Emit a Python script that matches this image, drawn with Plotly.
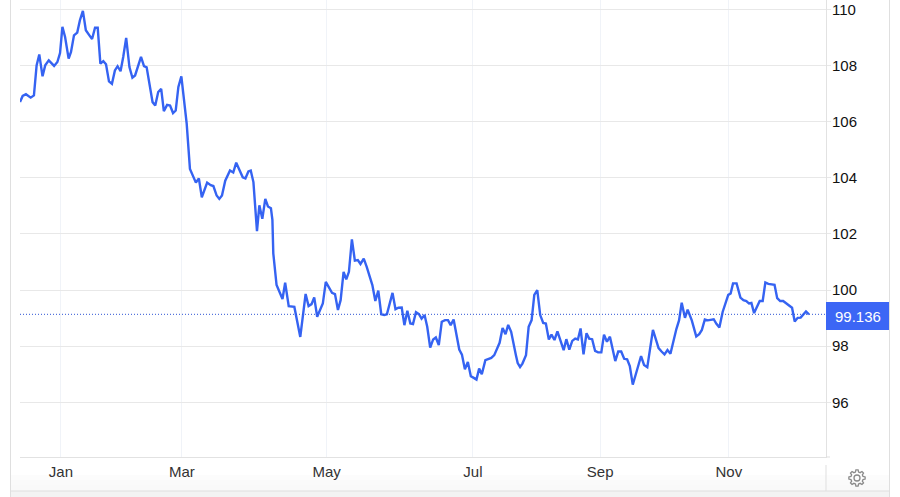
import math

import plotly.graph_objects as go

# trading session position (reference has uneven month spacing) and index value
sessions = [
    0.0, 0.9, 2.0, 3.6, 4.7, 5.6, 6.5, 7.6, 8.5, 9.7, 11.5, 12.6, 13.5, 14.3, 15.2, 16.4, 17.2, 18.2, 19.3, 20.2,
    21.2, 22.2, 23.4, 24.3, 25.3, 26.2, 27.1, 28.1, 29.0, 30.0, 31.0, 32.0, 32.9, 33.9, 34.8, 35.8, 36.9, 37.9, 38.8, 40.8,
    41.8, 42.7, 44.7, 45.6, 46.6, 47.6, 48.5, 49.6, 50.6, 51.6, 52.5, 53.4, 54.4, 56.2, 57.3, 59.3, 60.3, 61.3, 63.1, 64.3,
    65.2, 66.3, 67.2, 68.1, 69.2, 70.8, 71.9, 72.9, 75.1, 76.0, 77.0, 77.8, 78.7, 79.9, 80.7, 81.7, 82.7, 83.6, 84.6, 85.1,
    85.4, 86.0, 86.5, 88.5, 89.4, 90.6, 92.5, 94.5, 96.3, 97.3, 98.3, 99.2, 100.2, 102.1, 103.1, 105.2, 106.2, 107.2, 108.1, 109.1,
    110.0, 110.9, 111.9, 112.9, 113.9, 114.8, 115.9, 116.9, 118.8, 119.8, 120.8, 121.8, 122.8, 123.7, 125.6, 126.6, 127.6, 128.7, 129.6, 130.6,
    131.6, 132.5, 133.5, 134.5, 135.4, 136.4, 137.3, 138.3, 139.3, 140.2, 141.2, 142.2, 143.3, 144.3, 145.2, 146.2, 148.1, 149.0, 150.0, 151.0,
    152.0, 153.0, 153.9, 154.8, 155.7, 156.9, 157.9, 158.9, 159.9, 161.7, 162.7, 163.7, 164.6, 165.6, 167.2, 167.8, 168.6, 169.4, 170.6, 171.5,
    172.5, 173.4, 174.4, 175.4, 176.4, 177.3, 178.3, 179.2, 180.2, 181.2, 183.3, 184.2, 185.2, 186.2, 187.2, 188.1, 189.0, 190.0, 191.0, 191.9,
    192.9, 193.9, 194.9, 196.0, 196.9, 197.9, 198.9, 200.7, 201.7, 202.7, 203.7, 204.7, 205.6, 206.6, 207.6, 209.4, 210.4, 211.5, 213.4, 215.3,
    216.3, 217.3, 218.3, 219.3, 221.3, 222.2, 223.1, 224.2, 225.1, 226.5, 228.0, 229.0, 229.9, 230.9, 231.9, 233.9, 234.8, 235.8, 236.9, 238.8,
    239.6, 240.4, 241.6, 242.9, 243.9, 244.9, 245.8, 246.6, 247.5, 249.4, 250.4, 251.3, 252.3, 254.4, 255.3, 256.3, 257.3, 258.3, 260.3, 261.2,
    262.2, 263.2, 265.0, 266.0,
]
values = [
    106.70, 106.92, 106.98, 106.86, 106.94, 108.01, 108.40, 107.62, 108.01, 108.19, 107.99, 108.13, 108.45, 109.38, 109.02, 108.25, 108.49, 109.08, 109.18, 109.62,
    109.95, 109.26, 109.08, 108.95, 109.35, 109.35, 108.07, 108.16, 108.05, 107.44, 107.35, 107.83, 107.98, 107.80, 108.31, 108.99, 107.95, 107.57, 107.65, 108.31,
    107.98, 107.94, 106.70, 106.58, 107.06, 107.17, 106.38, 106.60, 106.58, 106.31, 106.40, 107.24, 107.62, 105.93, 104.32, 103.83, 103.98, 103.31, 103.83, 103.74,
    103.71, 103.37, 103.25, 103.37, 103.90, 104.26, 104.19, 104.54, 104.02, 103.98, 104.23, 104.26, 103.85, 102.10, 103.02, 102.54, 103.25, 102.98, 102.92, 102.50,
    101.31, 100.71, 100.18, 99.68, 100.26, 99.43, 99.40, 98.33, 99.86, 99.43, 99.50, 99.74, 99.05, 99.52, 100.29, 99.90, 99.86, 99.29, 99.64, 100.65,
    100.38, 100.65, 101.81, 101.05, 101.07, 100.93, 101.12, 100.83, 100.18, 99.61, 99.98, 99.14, 99.11, 99.14, 99.90, 99.32, 99.37, 99.38, 98.75, 99.26,
    98.81, 98.79, 99.21, 99.14, 98.98, 99.11, 98.69, 97.95, 98.24, 98.31, 98.04, 98.87, 98.93, 98.93, 98.75, 98.95, 97.88, 97.70, 97.18, 97.44,
    96.93, 96.87, 96.81, 97.20, 97.00, 97.50, 97.55, 97.58, 97.68, 98.12, 98.65, 98.43, 98.76, 98.51, 97.68, 97.40, 97.26, 97.38, 97.68, 98.69,
    98.93, 99.83, 100.00, 99.11, 98.83, 98.81, 98.24, 98.41, 98.22, 98.53, 97.86, 98.25, 97.88, 98.19, 98.27, 98.24, 98.63, 97.71, 98.46, 98.27,
    98.25, 97.83, 97.78, 97.78, 98.41, 98.16, 98.34, 97.47, 97.81, 97.81, 97.55, 97.53, 97.29, 96.63, 96.99, 97.65, 97.33, 97.25, 98.58, 97.93,
    97.81, 97.71, 97.86, 97.73, 98.61, 98.92, 99.55, 99.01, 99.30, 98.92, 98.35, 98.43, 98.58, 98.95, 98.92, 98.96, 98.80, 98.67, 99.22, 99.83,
    99.88, 100.24, 100.24, 99.73, 99.64, 99.61, 99.52, 99.54, 99.18, 99.61, 99.61, 100.27, 100.22, 100.19, 99.71, 99.61, 99.61, 99.52, 99.37, 98.88,
    99.01, 99.02, 99.24, 99.136,
]
month_labels = ["Jan", "Mar", "May", "Jul", "Sep", "Nov"]
month_sessions = [13.8, 54.6, 103.4, 152.7, 195.6, 239.0]
y_ticks = [96, 98, 100, 102, 104, 106, 108, 110]

WIDTH = 900
HEIGHT = 497
BLUE = "#3563f2"
FONT = "Liberation Sans"


def px_x(px):
    return px / WIDTH


def px_y(py):
    return 1 - py / HEIGHT


def frame_line(x0, y0, x1, y1, color="#dfdfdf"):
    return dict(type="line", xref="paper", yref="paper", layer="above",
                x0=px_x(x0), y0=px_y(y0), x1=px_x(x1), y1=px_y(y1),
                line=dict(color=color, width=1))


def gear_path(cx, cy, r_out=8.2, r_in=6.2, teeth=8):
    # settings icon outline, in paper coordinates
    pts = []
    for i in range(teeth):
        a = 2 * math.pi * i / teeth
        step = 2 * math.pi / teeth
        for off, r in [(-0.32, r_in), (-0.17, r_out), (0.17, r_out), (0.32, r_in)]:
            t = a + off * step
            pts.append((cx + r * math.cos(t), cy + r * math.sin(t)))
    return "M " + " L ".join(f"{px_x(x):.5f},{px_y(y):.5f}" for x, y in pts) + " Z"


last_price = values[-1]

fig = go.Figure()
fig.add_trace(go.Scatter(
    x=sessions, y=values,
    mode="lines",
    line=dict(color=BLUE, width=2.4),
    hoverinfo="skip",
    showlegend=False,
))

# faint fade at the bottom of the date strip
fade = [
    dict(type="rect", xref="paper", yref="paper", layer="below", x0=px_x(10.5), x1=px_x(889.5),
         y0=px_y(491), y1=px_y(top), fillcolor="#f8f8f8", opacity=0.45, line=dict(width=0))
    for top in (485, 480, 475)
]

shapes = fade + [
    # last price line
    dict(type="line", xref="paper", yref="y", x0=px_x(20), x1=px_x(826), y0=last_price, y1=last_price,
         line=dict(color="#2f55d4", width=1, dash="1px,2px")),
    # page frame
    frame_line(10.5, 0, 10.5, 497),
    frame_line(889.5, 0, 889.5, 497),
    dict(type="rect", xref="paper", yref="paper", layer="below", x0=px_x(10.5), x1=px_x(889.5),
         y0=px_y(497), y1=px_y(491), fillcolor="#f3f3f3", line=dict(width=0)),
    frame_line(10.5, 491, 889.5, 491),
    frame_line(826, 465, 826, 491),
    frame_line(826, 457, 830, 457),
    # last price tag
    dict(type="rect", xref="paper", yref="paper", x0=px_x(826), x1=px_x(889), y0=px_y(330), y1=px_y(302),
         fillcolor="#3c66f5", line=dict(width=0)),
    # settings icon
    dict(type="path", xref="paper", yref="paper", path=gear_path(857, 478),
         line=dict(color="#8a8a8a", width=1.3), fillcolor="rgba(0,0,0,0)"),
    dict(type="circle", xref="paper", yref="paper", x0=px_x(854), x1=px_x(860), y0=px_y(481), y1=px_y(475),
         line=dict(color="#8a8a8a", width=1.3)),
]

fig.update_layout(
    width=WIDTH,
    height=HEIGHT,
    margin=dict(l=0, r=0, t=0, b=0),
    paper_bgcolor="white",
    plot_bgcolor="white",
    showlegend=False,
    font=dict(family=FONT, size=15, color="#111111"),
    shapes=shapes,
    annotations=[dict(
        xref="paper", yref="paper", x=px_x(857.5), y=px_y(316.5),
        xanchor="center", yanchor="middle",
        text=f"{last_price:.3f}", showarrow=False,
        font=dict(family=FONT, size=15, color="white"),
    )],
    xaxis=dict(
        domain=[px_x(20), px_x(826)],
        range=[0, 271.75],
        tickmode="array",
        tickvals=month_sessions,
        ticktext=month_labels,
        showgrid=True,
        gridcolor="#f0f3f8",
        gridwidth=1,
        zeroline=False,
        showline=True,
        linecolor="#e2e2e2",
        ticks="",
        ticklabelstandoff=1,
        tickfont=dict(family=FONT, size=15, color="#333333"),
        fixedrange=True,
    ),
    yaxis=dict(
        domain=[px_y(457), 1],
        range=[94.05, 110.34],
        side="right",
        tickmode="array",
        tickvals=y_ticks,
        showgrid=True,
        gridcolor="#e8e8e8",
        gridwidth=1,
        zeroline=False,
        showline=True,
        linecolor="#e2e2e2",
        ticks="outside",
        ticklen=4,
        tickcolor="#e8e8e8",
        ticklabelstandoff=-2,
        tickfont=dict(family=FONT, size=15, color="#111111"),
        fixedrange=True,
    ),
)

fig.write_html("out.html", config=dict(displayModeBar=False),
               post_script="document.body.style.margin='0';")
